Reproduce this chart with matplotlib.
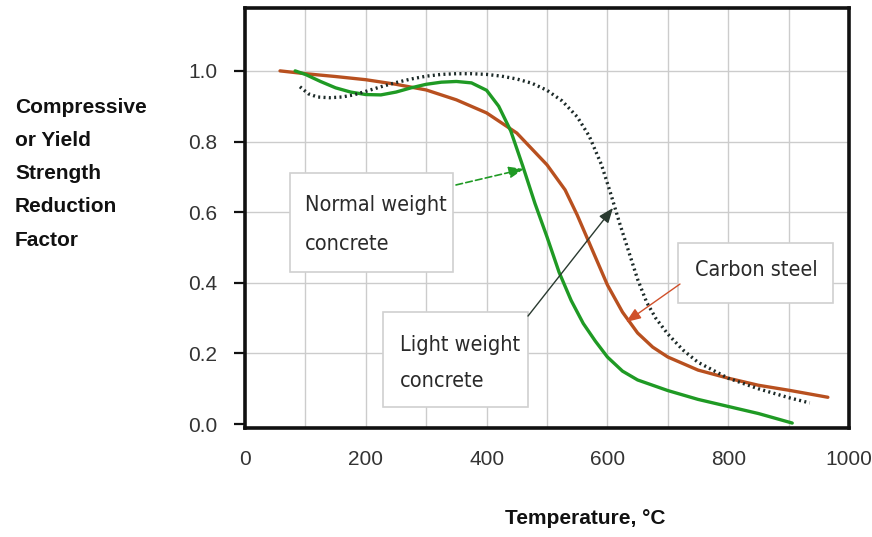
import matplotlib
matplotlib.use("Agg")
import matplotlib.pyplot as plt
from matplotlib.patches import Rectangle

# ---- data ----
steel_T = [58, 100, 150, 200, 250, 300, 350, 400, 450, 500, 530, 550, 575, 600, 625, 650, 675, 700, 750, 800, 850, 900, 965]
steel_k = [1.0, 0.992, 0.984, 0.975, 0.962, 0.946, 0.918, 0.881, 0.824, 0.734, 0.663, 0.592, 0.493, 0.394, 0.317, 0.258, 0.218, 0.19, 0.153, 0.13, 0.11, 0.096, 0.076]

nwc_T = [83, 100, 125, 150, 175, 200, 225, 250, 275, 300, 325, 350, 375, 400, 420, 440, 460, 480, 500, 520, 540, 560, 580, 600, 625, 650, 700, 750, 800, 850, 906]
nwc_k = [1.0, 0.99, 0.97, 0.952, 0.94, 0.933, 0.932, 0.94, 0.952, 0.962, 0.968, 0.97, 0.966, 0.945, 0.9, 0.83, 0.73, 0.625, 0.53, 0.43, 0.35, 0.285, 0.235, 0.19, 0.15, 0.125, 0.095, 0.07, 0.05, 0.03, 0.003]

lwc_T = [91, 105, 120, 140, 160, 180, 200, 225, 250, 275, 300, 325, 350, 375, 400, 425, 450, 475, 500, 525, 550, 570, 590, 605, 620, 635, 650, 665, 680, 700, 725, 750, 800, 850, 900, 935]
lwc_k = [0.955, 0.935, 0.926, 0.924, 0.926, 0.932, 0.942, 0.955, 0.967, 0.977, 0.985, 0.99, 0.992, 0.992, 0.99, 0.985, 0.977, 0.965, 0.945, 0.915, 0.87, 0.815, 0.735, 0.655, 0.57, 0.49, 0.41, 0.345, 0.3, 0.255, 0.21, 0.175, 0.13, 0.1, 0.075, 0.06]

x_ticks = [0, 200, 400, 600, 800, 1000]
y_ticks = [0.0, 0.2, 0.4, 0.6, 0.8, 1.0]
y_ticklabels = ["0.0", "0.2", "0.4", "0.6", "0.8", "1.0"]
ylabel_lines = ["Compressive", "or Yield", "Strength", "Reduction", "Factor"]
xlabel = "Temperature, \u00b0C"

TICKF = ["Liberation Sans", "DejaVu Sans"]
CONDF = ["DejaVu Sans"]
BOLD = ["Liberation Sans", "DejaVu Sans"]

STEEL_C = "#b8501f"
GREEN_C = "#1f9a24"
DOT_C = "#1c2a28"

fig = plt.figure(figsize=(8.72, 5.37), dpi=100)
W, H = 872, 537
ax = fig.add_axes([245 / W, 1 - 428 / H, (849 - 245) / W, (428 - 8) / H])

ax.set_xlim(0, 1000)
ax.set_ylim(-0.011, 1.178)

for xv in range(100, 1000, 100):
    ax.axvline(xv, color="#cccccc", lw=1.0, zorder=0)
for yv in y_ticks[1:]:
    ax.axhline(yv, color="#cccccc", lw=1.0, zorder=0)

for s in ax.spines.values():
    s.set_linewidth(2.6)
    s.set_color("#111111")

ax.set_xticks(x_ticks)
ax.set_xticklabels([str(v) for v in x_ticks], family=TICKF, fontsize=15, color="#333333")
ax.tick_params(axis="x", length=0, pad=16)
ax.set_yticks(y_ticks)
ax.set_yticklabels(y_ticklabels, family=TICKF, fontsize=15, color="#333333")
ax.tick_params(axis="y", length=8, width=1.6, direction="out", pad=12, color="#111111")

ax.plot(steel_T, steel_k, color=STEEL_C, lw=2.4, solid_capstyle="round", solid_joinstyle="round", zorder=3)
ax.plot(nwc_T, nwc_k, color=GREEN_C, lw=2.4, solid_capstyle="round", solid_joinstyle="round", zorder=4)
ax.plot(lwc_T, lwc_k, color=DOT_C, lw=2.4, linestyle=(0, (0.6, 1.0)), zorder=5)


def px_to_data(px, py):
    return ((px - 245) / 604 * 1000, (424 - py) / 353)


def add_box(x0, y0, x1, y1):
    a0 = px_to_data(x0, y1)
    a1 = px_to_data(x1, y0)
    ax.add_patch(Rectangle(a0, a1[0] - a0[0], a1[1] - a0[1], facecolor="white",
                           edgecolor="#d0d0d0", lw=1.2, zorder=6))


add_box(290, 173, 453, 272)
add_box(678, 243, 833, 303)
add_box(383, 312, 528, 407)

tk = dict(family=CONDF, stretch="condensed", fontsize=15.5, color="#2a2a2a", zorder=7)
ax.text(*px_to_data(305, 205), "Normal weight", ha="left", va="center", **tk)
ax.text(*px_to_data(305, 244), "concrete", ha="left", va="center", **tk)
ax.text(*px_to_data(695, 270), "Carbon steel", ha="left", va="center", **tk)
ax.text(*px_to_data(400, 345), "Light weight", ha="left", va="center", **tk)
ax.text(*px_to_data(400, 381), "concrete", ha="left", va="center", **tk)

ax.annotate("", xy=px_to_data(524, 169), xytext=px_to_data(456, 185),
            arrowprops=dict(arrowstyle="-|>,head_length=0.9,head_width=0.35", color=GREEN_C,
                            lw=1.2, linestyle=(0, (4, 2)), shrinkA=0, shrinkB=0), zorder=8)
ax.annotate("", xy=px_to_data(613, 208), xytext=px_to_data(528, 316),
            arrowprops=dict(arrowstyle="-|>,head_length=0.9,head_width=0.35", color="#2a3a30",
                            lw=1.0, shrinkA=0, shrinkB=0), zorder=8)
ax.annotate("", xy=px_to_data(626, 322), xytext=px_to_data(680, 284),
            arrowprops=dict(arrowstyle="-|>,head_length=0.9,head_width=0.35", color="#d0502a",
                            lw=1.0, shrinkA=0, shrinkB=0), zorder=8)

for i, line in enumerate(ylabel_lines):
    fig.text(15 / W, 1 - (107 + i * 33.3) / H, line, ha="left", va="center",
             family=BOLD, fontsize=15, fontweight="bold", color="#111111")
fig.text(585 / W, 1 - 519 / H, xlabel, ha="center", va="center",
         family=BOLD, fontsize=15, fontweight="bold", color="#111111")

fig.savefig("out.png", dpi=100, facecolor="white")
